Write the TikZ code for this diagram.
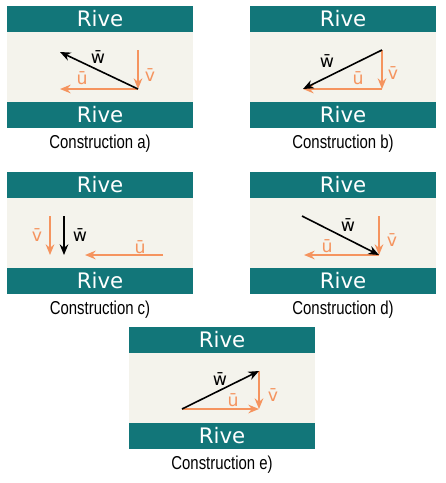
\documentclass[tikz,border=0pt]{standalone}
\usepackage{fontspec}
\setmainfont{DejaVu Sans}
\newfontfamily\capfont[FakeStretch=0.8]{Liberation Sans}
\usetikzlibrary{arrows.meta}
\definecolor{rivteal}{HTML}{127679}
\definecolor{rivbeige}{HTML}{F4F3EC}
\definecolor{vecorange}{HTML}{F5945F}

\tikzset{
  vecu/.style={draw=vecorange, line width=1.5pt, -{Stealth[length=8pt,width=6.5pt]}},
  vecw/.style={draw=black, line width=1.2pt, -{Stealth[length=8pt,width=6.5pt]}},
  vlabel/.style={font=\fontsize{13}{14}\selectfont, inner sep=0pt},
  olabel/.style={vlabel, text=vecorange},
  rive/.style={text=white, font=\fontsize{16}{17}\selectfont, inner sep=0pt},
  caption/.style={font=\capfont\fontsize{14}{15}\selectfont, inner sep=0pt}
}

% bands, beige water and caption of one panel
\newcommand{\riverbed}[1]{%
  \fill[rivteal] (0,0) rectangle (186,26);
  \fill[rivbeige] (0,26) rectangle (186,96);
  \fill[rivteal] (0,96) rectangle (186,122);
  \node[rive] (#1-top) at (93,13) {Rive};
  \node[rive] (#1-bot) at (93,109) {Rive};
  \node[caption] (#1-cap) at (93,138) {Construction #1)};
}

\begin{document}
\begin{tikzpicture}[x=0.75pt, y=-0.75pt]
  \useasboundingbox (0,0) rectangle (446,483);

  % a)
  \begin{scope}[shift={(7,6)}]
    \riverbed{a}
    \coordinate (a-o) at (131,83);
    \coordinate (a-v) at (131,44);
    \coordinate (a-u) at (53,83);
    \coordinate (a-w) at (53,46);
    \draw[vecu] (a-v) -- (a-o);
    \draw[vecu] (a-o) -- (a-u);
    \draw[vecw] (a-o) -- (a-w);
    \node[vlabel] (a-wl) at (91,51) {w^^^^0304};
    \node[olabel] (a-ul) at (75,72) {u^^^^0304};
    \node[olabel] (a-vl) at (143,69) {v^^^^0304};
  \end{scope}

  % b)
  \begin{scope}[shift={(250,6)}]
    \riverbed{b}
    \coordinate (b-v) at (132,44);
    \coordinate (b-o) at (132,83);
    \coordinate (b-u) at (53,83);
    \draw[vecu] (b-v) -- (b-o);
    \draw[vecu] (b-o) -- (b-u);
    \draw[vecw] (b-v) -- (b-u);
    \node[vlabel] (b-wl) at (77,55) {w^^^^0304};
    \node[olabel] (b-ul) at (108,72) {u^^^^0304};
    \node[olabel] (b-vl) at (143,67) {v^^^^0304};
  \end{scope}

  % c)
  \begin{scope}[shift={(7,172)}]
    \riverbed{c}
    \coordinate (c-v1) at (43,44);
    \coordinate (c-v2) at (43,83);
    \coordinate (c-w1) at (57,44);
    \coordinate (c-w2) at (57,83);
    \coordinate (c-u1) at (156,83);
    \coordinate (c-u2) at (78,83);
    \draw[vecu] (c-v1) -- (c-v2);
    \draw[vecw] (c-w1) -- (c-w2);
    \draw[vecu] (c-u1) -- (c-u2);
    \node[olabel] (c-vl) at (30,63) {v^^^^0304};
    \node[vlabel] (c-wl) at (73,63) {w^^^^0304};
    \node[olabel] (c-ul) at (133,75) {u^^^^0304};
  \end{scope}

  % d)
  \begin{scope}[shift={(250,172)}]
    \riverbed{d}
    \coordinate (d-w) at (52,44);
    \coordinate (d-v) at (129,44);
    \coordinate (d-o) at (129,83);
    \coordinate (d-u) at (54,83);
    \draw[vecu] (d-v) -- (d-o);
    \draw[vecu] (d-o) -- (d-u);
    \draw[vecw] (d-w) -- (d-o);
    \node[vlabel] (d-wl) at (98,53) {w^^^^0304};
    \node[olabel] (d-ul) at (77,74) {u^^^^0304};
    \node[olabel] (d-vl) at (142,68) {v^^^^0304};
  \end{scope}

  % e)
  \begin{scope}[shift={(129,327)}]
    \riverbed{e}
    \coordinate (e-o) at (53,82);
    \coordinate (e-v) at (130,44);
    \coordinate (e-u) at (130,82);
    \draw[vecu] (e-v) -- (e-u);
    \draw[vecu] (e-o) -- (e-u);
    \draw[vecw] (e-o) -- (e-v);
    \node[vlabel] (e-wl) at (91,52) {w^^^^0304};
    \node[olabel] (e-ul) at (104,73) {u^^^^0304};
    \node[olabel] (e-vl) at (144,68) {v^^^^0304};
  \end{scope}
\end{tikzpicture}
\end{document}
